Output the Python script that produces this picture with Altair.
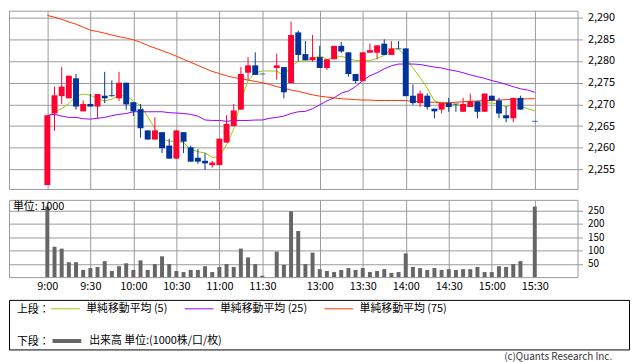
import json
import altair as alt
import pandas as pd

FONT = "Noto Sans CJK JP"
GRID = "#9a9a9a"

# ---- data (5-minute bars, slot 31 = lunch gap, slot 67 = pre-close) ----
slot_index = list(range(69))
opens = [2251.4, 2267.9, 2271.9, 2271.4, 2276.0, 2268.4, 2270.1, 2269.5, 2272.0, 2272.1,
         2271.4, 2275.0, 2270.5, 2268.9, 2264.0, 2261.9, 2263.6, 2260.5, 2257.5, 2263.6,
         2260.1, 2257.7, 2257.0, 2256.0, 2256.0, 2261.2, 2265.0, 2268.8, 2277.3, 2279.0,
         2277.0, None, 2278.4, 2278.6, 2274.9, 2286.6, 2281.6, 2280.2, 2280.9, 2278.4,
         2280.4, 2283.5, 2282.0, 2277.0, 2275.4, 2281.9, 2281.9, 2284.0, 2281.4, 2282.8,
         2282.9, 2272.0, 2270.3, 2272.0, 2269.0, 2268.8, 2270.3, 2270.1, 2268.3, 2269.4,
         2270.7, 2268.3, 2272.0, 2270.9, 2267.5, 2266.8, 2271.5, None, 2266.1]
highs = [2267.5, 2274.1, 2278.6, 2276.6, 2277.0, 2270.9, 2272.4, 2272.4, 2277.5, 2275.5,
         2277.5, 2275.0, 2270.5, 2270.1, 2264.0, 2267.0, 2263.6, 2262.1, 2264.0, 2263.6,
         2260.5, 2259.7, 2258.8, 2257.0, 2262.1, 2267.5, 2270.1, 2278.6, 2280.9, 2282.0,
         2277.0, None, 2281.7, 2278.6, 2289.1, 2287.0, 2284.6, 2286.0, 2283.5, 2280.4,
         2283.5, 2284.4, 2282.0, 2277.0, 2282.0, 2284.0, 2283.6, 2285.0, 2284.6, 2284.6,
         2282.9, 2274.6, 2273.2, 2272.5, 2269.0, 2270.3, 2271.5, 2270.1, 2271.5, 2272.5,
         2270.7, 2272.5, 2272.0, 2271.5, 2269.6, 2271.5, 2272.0, None, 2266.1]
lows = [2251.4, 2263.9, 2270.1, 2271.4, 2268.8, 2268.4, 2269.5, 2266.7, 2270.3, 2271.8,
        2270.8, 2268.8, 2267.3, 2262.3, 2261.9, 2261.9, 2258.8, 2257.5, 2257.5, 2258.8,
        2256.8, 2256.3, 2254.9, 2255.4, 2256.0, 2261.2, 2265.0, 2268.8, 2275.7, 2276.8,
        2277.0, None, 2275.7, 2271.4, 2274.9, 2279.9, 2280.2, 2279.8, 2278.4, 2277.9,
        2280.4, 2281.9, 2276.4, 2274.9, 2275.4, 2281.9, 2280.4, 2281.4, 2281.4, 2282.8,
        2271.9, 2269.9, 2269.4, 2268.8, 2266.8, 2267.9, 2268.3, 2268.3, 2268.3, 2269.4,
        2266.8, 2268.3, 2270.9, 2266.8, 2265.9, 2265.9, 2268.8, None, 2266.1]
closes = [2267.5, 2272.1, 2274.1, 2276.6, 2269.5, 2270.1, 2269.5, 2272.4, 2271.4, 2271.9,
          2275.0, 2270.0, 2268.4, 2264.5, 2261.9, 2264.0, 2259.9, 2257.5, 2264.0, 2261.4,
          2256.8, 2256.8, 2256.4, 2256.6, 2262.1, 2265.5, 2268.6, 2277.0, 2279.0, 2276.8,
          2277.0, None, 2279.0, 2272.8, 2286.0, 2281.4, 2280.2, 2280.9, 2278.4, 2280.4,
          2283.5, 2282.2, 2277.0, 2275.4, 2282.0, 2282.5, 2283.6, 2281.4, 2282.9, 2282.8,
          2271.9, 2270.3, 2272.5, 2269.4, 2268.4, 2270.3, 2269.4, 2270.1, 2270.1, 2270.7,
          2268.3, 2272.5, 2270.9, 2267.9, 2266.8, 2271.5, 2268.8, None, 2266.1]
volumes = [265, 114, 107, 56, 56, 27, 34, 38, 60, 23,
           41, 52, 27, 63, 27, 49, 78, 49, 23, 19,
           27, 27, 41, 19, 38, 49, 38, 107, 74, 49,
           5, None, 96, 46, 247, 173, 49, 92, 30, 23,
           19, 27, 34, 27, 34, 19, 23, 30, 16, 19,
           89, 38, 34, 27, 34, 27, 30, 27, 30, 30,
           38, 19, 19, 41, 38, 49, 60, None, 265]
ma5 = [2267.2, 2268.3, 2269.0, 2270.2, 2271.9, 2272.4, 2272.1, 2271.3, 2270.8, 2271.2,
       2272.1, 2272.1, 2270.7, 2269.7, 2267.2, 2264.4, 2262.1, 2261.5, 2261.5, 2261.2,
       2259.6, 2259.1, 2258.8, 2257.8, 2257.9, 2260.7, 2264.3, 2270.8, 2275.5, 2277.3,
       2277.7, 2277.7, 2277.7, 2276.6, 2278.8, 2279.9, 2280.1, 2280.4, 2281.3, 2280.4,
       2280.8, 2281.1, 2280.6, 2280.1, 2280.1, 2280.1, 2280.6, 2281.3, 2282.8, 2282.8,
       2280.9, 2278.4, 2276.2, 2273.7, 2270.8, 2270.3, 2270.1, 2269.9, 2269.6, 2269.6,
       2269.8, 2270.4, 2270.3, 2270.1, 2269.4, 2270.1, 2269.6, 2269.0, 2268.5]
ma25 = [2267.5, 2267.7, 2267.3, 2267.0, 2267.0, 2266.7, 2266.6, 2266.8, 2267.0, 2267.4,
        2267.7, 2267.9, 2268.3, 2268.3, 2268.3, 2268.3, 2268.3, 2268.1, 2268.0, 2267.9,
        2267.7, 2267.3, 2266.4, 2266.3, 2266.3, 2266.1, 2266.3, 2266.3, 2266.3, 2266.4,
        2266.4, 2266.8, 2267.0, 2267.3, 2267.9, 2268.3, 2268.4, 2269.0, 2269.9, 2270.8,
        2271.5, 2272.6, 2273.1, 2274.1, 2275.5, 2276.6, 2277.3, 2278.2, 2278.9, 2279.3,
        2279.3, 2279.3, 2279.2, 2278.9, 2278.6, 2278.4, 2278.0, 2277.7, 2277.3, 2276.8,
        2276.4, 2276.0, 2275.5, 2275.1, 2274.6, 2274.1, 2273.6, 2273.3, 2272.8]
ma75 = [2290.5, 2290.1, 2289.6, 2289.0, 2288.5, 2287.8, 2287.1, 2286.8, 2286.4, 2286.0,
        2285.6, 2285.3, 2284.9, 2284.3, 2283.6, 2283.0, 2282.4, 2281.8, 2281.1, 2280.4,
        2279.7, 2279.0, 2278.3, 2277.6, 2277.1, 2276.6, 2276.2, 2275.9, 2275.6, 2275.3,
        2275.0, 2274.6, 2274.1, 2273.7, 2273.3, 2273.0, 2272.6, 2272.2, 2271.9, 2271.7,
        2271.5, 2271.3, 2271.2, 2271.1, 2271.0, 2271.0, 2270.9, 2270.9, 2270.9, 2270.9,
        2270.9, 2270.7, 2270.6, 2270.5, 2270.5, 2270.4, 2270.4, 2270.5, 2270.6, 2270.7,
        2270.8, 2270.9, 2270.9, 2271.0, 2271.1, 2271.2, 2271.2, 2271.3, 2271.3]

tick_slots = [0, 6, 12, 18, 24, 30, 38, 44, 50, 56, 62, 68]
tick_labels = ["9:00", "9:30", "10:00", "10:30", "11:00", "11:30",
               "13:00", "13:30", "14:00", "14:30", "15:00", "15:30"]
price_ticks = [2255, 2260, 2265, 2270, 2275, 2280, 2285, 2290]
volume_ticks = [50, 100, 150, 200, 250]
ma_names = ["単純移動平均 (5)", "単純移動平均 (25)", "単純移動平均 (75)"]
ma_colors = ["#99cc00", "#9900ff", "#ff3300"]
vol_names = ["出来高 単位:(1000株/口/枚)"]
vol_colors = ["#666666"]
unit_label = "単位: 1000"
copyright_text = "(c)Quants Research Inc."
up_down = ["up", "down"]
candle_colors = ["#ff0033", "#003399"]

# ---- tables ----
df = pd.DataFrame({"slot": slot_index, "o": opens, "h": highs, "l": lows,
                   "c": closes, "vol": volumes})
candles = df.dropna(subset=["o"]).copy()
candles["dir"] = ["up" if c > o else "down" for o, c in zip(candles["o"], candles["c"])]
vols = df.dropna(subset=["vol"])
ma_df = pd.DataFrame({"slot": slot_index, ma_names[0]: ma5, ma_names[1]: ma25, ma_names[2]: ma75})
ma_long = ma_df.melt(id_vars="slot", var_name="series", value_name="value")

# ---- scales / axes ----
xscale = alt.Scale(domain=[-4.66, 73.27], nice=False, zero=False)
label_expr = f"{json.dumps(tick_labels, ensure_ascii=False)}[indexof({json.dumps(tick_slots)}, datum.value)]"

x_price = alt.X("slot:Q", scale=xscale,
                axis=alt.Axis(values=tick_slots, labels=False, ticks=False, domain=False,
                              grid=True, title=None))
pscale = alt.Scale(domain=[2250.5, 2291.6], nice=False, zero=False)
paxis = alt.Axis(orient="right", values=price_ticks, format=",", title=None, grid=True,
                 tickSize=5, labelPadding=5, domain=False)


def py(field):
    return alt.Y(f"{field}:Q", scale=pscale, axis=paxis)


dir_color = alt.Color("dir:N", scale=alt.Scale(domain=up_down, range=candle_colors), legend=None)

lines = alt.Chart(ma_long).mark_line(strokeWidth=1).encode(
    x=x_price, y=py("value"),
    stroke=alt.Stroke("series:N", scale=alt.Scale(domain=ma_names, range=ma_colors), legend=None),
)
wicks = alt.Chart(candles).mark_rule(strokeWidth=1).encode(x=x_price, y=py("l"), y2="h:Q", color=dir_color)
bodies = alt.Chart(candles).mark_bar(size=6).encode(x=x_price, y=py("o"), y2="c:Q", color=dir_color)
doji = alt.Chart(candles).transform_filter("datum.o == datum.c").mark_tick(
    orient="horizontal", size=6, thickness=1).encode(x=x_price, y=py("o"), color=dir_color)

price_chart = alt.layer(lines, wicks, bodies, doji).properties(width=574, height=180)

vol_bars = alt.Chart(vols).mark_bar(size=4, color="#666666").encode(
    x=alt.X("slot:Q", scale=xscale,
            axis=alt.Axis(values=tick_slots, labelExpr=label_expr, grid=True, ticks=False,
                          domain=False, labelPadding=3, title=None, labelFlush=False)),
    y=alt.Y("vol:Q", scale=alt.Scale(domain=[0, 290], nice=False),
            axis=alt.Axis(orient="right", values=volume_ticks, title=None, grid=True,
                          tickSize=5, labelPadding=5, domain=False, labelFontSize=10)),
)
unit_text = alt.Chart(pd.DataFrame({"t": [unit_label]})).mark_text(
    align="left", baseline="middle", fontSize=11, font=FONT, color="#000000"
).encode(text="t:N", x=alt.value(4), y=alt.value(7))
vol_chart = alt.layer(vol_bars, unit_text).properties(width=574, height=78)

# ---- legend box ----
leg_common = dict(orient="none", direction="horizontal", titleOrient="left",
                  titleAnchor="middle", titleBaseline="top",
                  titleFont=FONT, titleFontSize=11, titleFontWeight="normal", titleColor="#000000",
                  titlePadding=1, symbolType="stroke", symbolSize=841,
                  labelFont=FONT, labelFontSize=11, labelColor="#000000", labelOffset=6,
                  labelLimit=300, padding=0)
leg_ma = alt.Chart(pd.DataFrame({"series": ma_names})).transform_filter("false").mark_line().encode(
    x=alt.value(0), y=alt.value(0),
    stroke=alt.Stroke("series:N", scale=alt.Scale(domain=ma_names, range=ma_colors),
                      legend=alt.Legend(title="上段：", columns=3, columnPadding=14,
                                        symbolStrokeWidth=1, legendX=8, legendY=-6, **leg_common)),
)
leg_vol = alt.Chart(pd.DataFrame({"name": vol_names})).transform_filter("false").mark_line().encode(
    x=alt.value(0), y=alt.value(0),
    color=alt.Color("name:N", scale=alt.Scale(domain=vol_names, range=vol_colors),
                    legend=alt.Legend(title="下段：", columns=1, symbolStrokeWidth=4,
                                      legendX=8, legendY=25, **leg_common)),
)
legend_panel = alt.layer(leg_ma, leg_vol).properties(
    width=626, height=50,
    view=alt.ViewBackground(stroke="#000000", strokeWidth=1),
    title=alt.TitleParams(text=copyright_text, orient="bottom", anchor="end", font=FONT,
                          fontSize=10, fontWeight="normal", color="#333333", offset=3, dx=-17),
)

inner = alt.vconcat(price_chart, vol_chart, spacing=11, bounds="flush")
chart = alt.vconcat(inner, legend_panel, spacing=1, bounds="full").resolve_scale(
    stroke="independent", color="independent"
).properties(padding=0, background="white").configure_view(
    stroke=GRID, strokeWidth=1
).configure_axis(
    labelFont=FONT, labelFontSize=11, labelColor="#000000", gridColor=GRID, gridWidth=1,
    tickColor=GRID
)

chart.save("out.html", embed_options={"renderer": "svg", "actions": False})
